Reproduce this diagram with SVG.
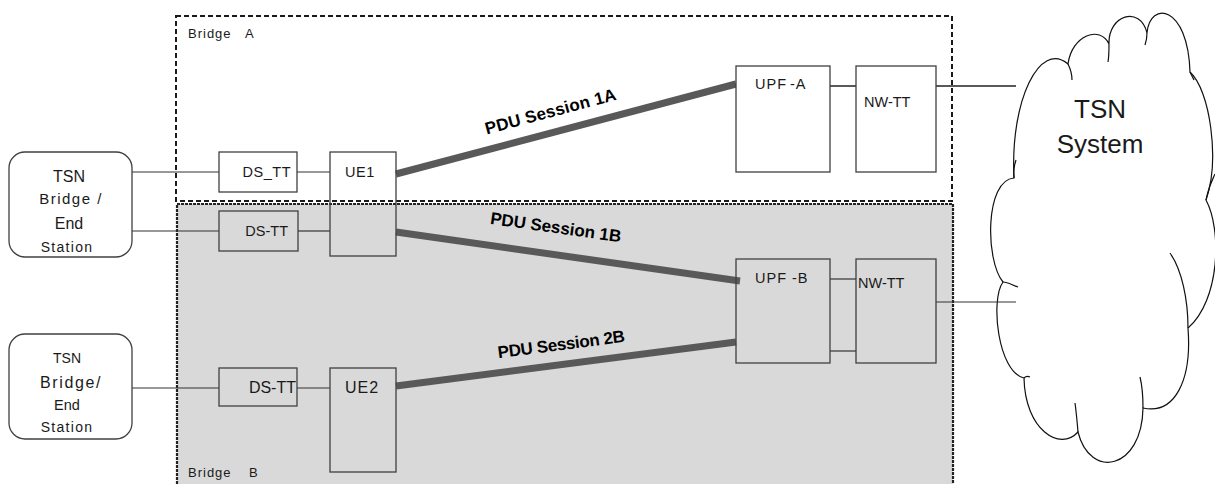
<svg xmlns="http://www.w3.org/2000/svg" width="1215" height="484" viewBox="0 0 1215 484">
<style>
.t{font-family:"Liberation Sans",Arial,sans-serif;fill:#1a1a1a}
.box{fill:none;stroke:#404040;stroke-width:1.3}
.wbox{fill:#fff;stroke:#404040;stroke-width:1.3}
.ln{stroke:#333;stroke-width:1.2;fill:none}
.ln2{stroke:#595959;stroke-width:2;fill:none}
.pdu{stroke:#595959;stroke-width:7;fill:none}
.pl{font-family:"Liberation Sans",Arial,sans-serif;font-weight:bold;font-size:17px;fill:#000}
.cl{fill:none;stroke:#111;stroke-width:1.2}
</style>
<rect width="1215" height="484" fill="#fff"/>
<g id="bridgeB">
<rect x="177" y="204" width="776" height="290" fill="#d9d9d9" stroke="#222" stroke-width="2.2" stroke-dasharray="3,1"/>
<text class="t" x="188" y="477" font-size="13" letter-spacing="1">Bridge</text>
<text class="t" x="249" y="477" font-size="13">B</text>
</g>
<g id="bridgeA">
<rect x="176" y="16" width="776" height="185" fill="none" stroke="#1a1a1a" stroke-width="2" stroke-dasharray="5,3"/>
<text class="t" x="188" y="38" font-size="13" letter-spacing="1">Bridge</text>
<text class="t" x="245" y="38" font-size="13">A</text>
</g>
<g id="cloud">
<path d="M1014 178 C1010 100,1040 40,1068 64 C1072 35,1100 25,1109 44 C1108 15,1140 5,1147 33 C1150 0,1188 5,1190 72 C1210 90,1220 160,1206 200 C1222 230,1220 300,1188 328 C1192 380,1175 415,1143 408 C1142 470,1090 480,1078 432 C1060 452,1025 430,1024 378 C998 372,990 300,1003 282 C985 260,985 180,1014 178 Z" fill="#fff" stroke="#111" stroke-width="1.2"/>
<path class="cl" d="M1014 178 C1013 170,1014 166,1016 160"/>
<path class="cl" d="M1068 64 C1071 70,1072 75,1072 80"/>
<path class="cl" d="M1109 44 C1109 50,1109 56,1108 62"/>
<path class="cl" d="M1147 33 C1147 38,1146 42,1145 45"/>
<path class="cl" d="M1190 72 C1192 76,1193 78,1194 80"/>
<path class="cl" d="M1206 200 C1208 190,1211 182,1215 174"/>
<path class="cl" d="M1188 328 C1188 300,1182 270,1170 253"/>
<path class="cl" d="M1143 408 C1143 395,1142 385,1140 377"/>
<path class="cl" d="M1078 432 C1077 420,1076 410,1075 403"/>
<path class="cl" d="M1024 378 C1026 376,1028 376,1030 377"/>
<path class="cl" d="M1003 282 C1008 282,1012 285,1018 287"/>
<text class="t" x="1100" y="118" font-size="26" text-anchor="middle">TSN</text>
<text class="t" x="1100" y="153" font-size="26" text-anchor="middle">System</text>
</g>
<g id="connectors">
<line class="ln" x1="132" y1="172" x2="219" y2="172"/>
<line class="ln" x1="297" y1="172" x2="330" y2="172"/>
<line class="ln" x1="132" y1="231" x2="219" y2="231"/>
<line class="ln" x1="298" y1="231" x2="330" y2="231"/>
<line class="ln" x1="132" y1="388" x2="219" y2="388"/>
<line class="ln" x1="297" y1="388" x2="330" y2="388"/>
<line class="ln2" x1="830" y1="86" x2="856" y2="86"/>
<line class="ln2" x1="936" y1="86" x2="1016" y2="86"/>
<line class="ln" x1="830" y1="279" x2="856" y2="279"/>
<line class="ln" x1="830" y1="351" x2="856" y2="351"/>
<line class="ln" x1="936" y1="302" x2="1016" y2="302"/>
<line class="pdu" x1="396" y1="174" x2="736" y2="84"/>
<line class="pdu" x1="396" y1="232" x2="740" y2="281"/>
<line class="pdu" x1="396" y1="386" x2="736" y2="342"/>
<text class="pl" transform="translate(552,117) rotate(-15)" text-anchor="middle" textLength="135">PDU Session 1A</text>
<text class="pl" transform="translate(555,233) rotate(8)" text-anchor="middle" textLength="132">PDU Session 1B</text>
<text class="pl" transform="translate(562,350) rotate(-7.4)" text-anchor="middle" textLength="128">PDU Session 2B</text>
</g>
<g id="tsn1">
<rect x="9" y="152" width="123" height="105" rx="16" class="wbox"/>
<text class="t" x="69" y="182" font-size="16" text-anchor="middle">TSN</text>
<text class="t" x="71" y="204" font-size="15" text-anchor="middle" letter-spacing="1.5">Bridge /</text>
<text class="t" x="69" y="229" font-size="16" text-anchor="middle">End</text>
<text class="t" x="67" y="252" font-size="14" text-anchor="middle" letter-spacing="1.3">Station</text>
</g>
<g id="tsn2">
<rect x="9" y="334" width="123" height="105" rx="16" class="wbox"/>
<text class="t" x="67" y="363" font-size="14" text-anchor="middle">TSN</text>
<text class="t" x="71" y="388" font-size="16" text-anchor="middle" letter-spacing="1.6">Bridge/</text>
<text class="t" x="67" y="410" font-size="14.5" text-anchor="middle">End</text>
<text class="t" x="67" y="432" font-size="14" text-anchor="middle" letter-spacing="1.3">Station</text>
</g>
<g id="dstt1">
<rect x="219" y="152" width="78" height="40" class="box"/>
<text class="t" x="291" y="177" font-size="14.5" text-anchor="end" letter-spacing="0.5">DS_TT</text>
</g>
<g id="ue1">
<rect x="330" y="152" width="66" height="104" class="box"/>
<text class="t" x="345" y="177" font-size="14.5" letter-spacing="0.5">UE1</text>
</g>
<g id="dstt2">
<rect x="219" y="211" width="79" height="40" class="box"/>
<text class="t" x="288" y="236" font-size="14.5" text-anchor="end">DS-TT</text>
</g>
<g id="dstt3">
<rect x="219" y="368" width="78" height="38" class="box"/>
<text class="t" x="296" y="393" font-size="16" text-anchor="end">DS-TT</text>
</g>
<g id="ue2">
<rect x="330" y="368" width="66" height="104" class="box"/>
<text class="t" x="345" y="393" font-size="16" letter-spacing="1">UE2</text>
</g>
<g id="upfA">
<rect x="736" y="66" width="94" height="106" class="wbox"/>
<text class="t" x="755" y="89" font-size="14.5" letter-spacing="1">UPF</text>
<text class="t" x="790" y="89" font-size="14.5" letter-spacing="1">-A</text>
</g>
<g id="nwttA">
<rect x="856" y="66" width="80" height="106" class="wbox"/>
<text class="t" x="864" y="107" font-size="14.5">NW-TT</text>
</g>
<g id="upfB">
<rect x="736" y="259" width="94" height="104" class="box"/>
<text class="t" x="755" y="283" font-size="14.5" letter-spacing="1">UPF</text>
<text class="t" x="792" y="283" font-size="14.5" letter-spacing="1">-B</text>
</g>
<g id="nwttB">
<rect x="856" y="259" width="80" height="104" class="box"/>
<text class="t" x="858" y="288" font-size="14.5">NW-TT</text>
</g>
</svg>
